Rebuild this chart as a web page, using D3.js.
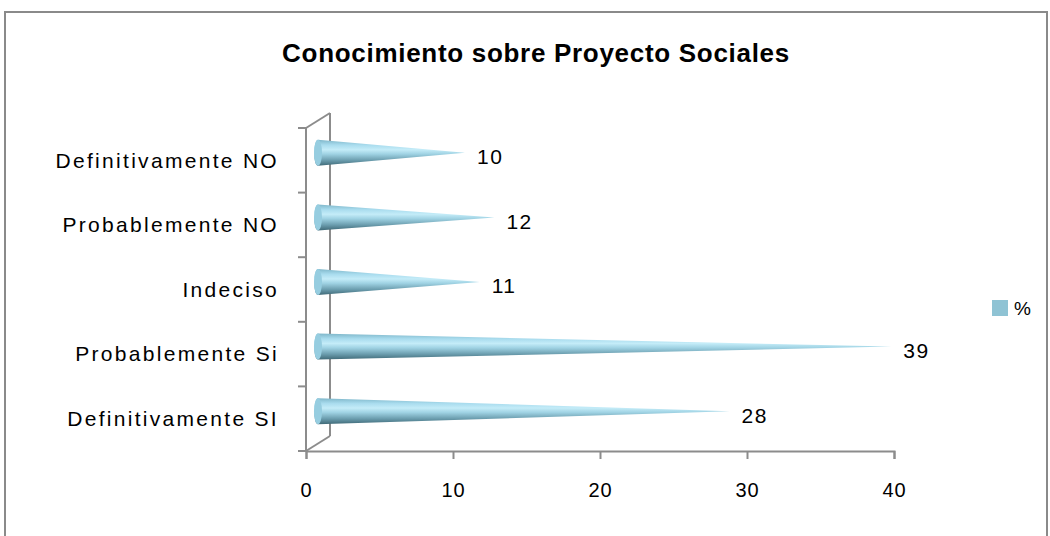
<!DOCTYPE html>
<html>
<head>
<meta charset="utf-8">
<script src="https://cdn.jsdelivr.net/npm/d3@7"></script>
<style>
  body { margin: 0; background: #fff; }
  svg { display: block; }
</style>
</head>
<body>
<div class="main"></div>
<script>
// data, bottom to top as in the picture
const categories = ["Definitivamente SI", "Probablemente Si", "Indeciso", "Probablemente NO", "Definitivamente NO"]
const values = [28, 39, 11, 12, 10]
const xTicks = [0, 10, 20, 30, 40]
const seriesName = "%"
const title = "Conocimiento sobre Proyecto Sociales"

const width = 1050
const height = 536
const margin = ({top: 128, right: 156, bottom: 85, left: 306})
const depth = ({dx: 24, dy: -15})
const font = "'Liberation Sans', Arial, sans-serif"

const svg = d3.select(".main").append("svg")
  .attr("width", width)
  .attr("height", height)

// outer frame (clipped at the bottom like the original)
svg.append("rect")
  .attr("x", 5).attr("y", 12)
  .attr("width", 1042).attr("height", 560)
  .attr("fill", "none")
  .attr("stroke", "#8a8a8a")
  .attr("stroke-width", 2)

svg.append("text")
  .text(title)
  .attr("x", 536).attr("y", 62)
  .attr("text-anchor", "middle")
  .attr("font-family", font)
  .attr("font-size", 26)
  .attr("font-weight", "bold")
  .attr("letter-spacing", 0.7)
  .attr("fill", "#000")

const xScale = d3.scaleLinear()
  .domain([0, 40])
  .range([margin.left, width - margin.right])

const yScale = d3.scaleBand()
  .domain(categories.slice().reverse())
  .range([margin.top, height - margin.bottom])

const x0 = xScale(0)
const yBottom = height - margin.bottom
const yTop = margin.top
const axisColor = "#8c8c8c"

// walls: front left axis, back wall edge and the depth lines
const walls = svg.append("g").attr("stroke", axisColor).attr("stroke-width", 2).attr("fill", "none")
walls.append("line").attr("x1", x0).attr("y1", yTop).attr("x2", x0).attr("y2", yBottom)
walls.append("line").attr("x1", x0 + depth.dx).attr("y1", yTop + depth.dy).attr("x2", x0 + depth.dx).attr("y2", yBottom + depth.dy)
walls.append("line").attr("x1", x0).attr("y1", yTop).attr("x2", x0 + depth.dx).attr("y2", yTop + depth.dy)
walls.append("line").attr("x1", x0).attr("y1", yBottom).attr("x2", x0 + depth.dx).attr("y2", yBottom + depth.dy)

// category ticks on the left axis
const yEdges = categories.map(c => yScale(c)).concat([yBottom])
walls.selectAll(".ytick")
  .data(yEdges)
  .join("line")
    .attr("x1", x0 - 8).attr("x2", x0)
    .attr("y1", d => d).attr("y2", d => d)

// value axis at the bottom
const xAxis = svg.append("g")
  .attr("transform", `translate(0, ${yBottom})`)
  .call(d3.axisBottom(xScale).tickValues(xTicks).tickSize(8).tickPadding(24))
xAxis.select(".domain").attr("stroke", axisColor).attr("stroke-width", 2)
xAxis.selectAll(".tick line").attr("stroke", axisColor).attr("stroke-width", 2)
xAxis.selectAll(".tick text")
  .attr("font-family", font)
  .attr("font-size", 20)
  .attr("letter-spacing", 1)
  .attr("fill", "#000")

// category labels
svg.append("g")
  .selectAll("text")
  .data(categories)
  .join("text")
    .text(d => d)
    .attr("x", 279)
    .attr("y", d => yScale(d) + yScale.bandwidth() / 2)
    .attr("dy", "0.35em")
    .attr("text-anchor", "end")
    .attr("font-family", font)
    .attr("font-size", 21)
    .attr("letter-spacing", 2.3)
    .attr("fill", "#000")

// cone shading
const defs = svg.append("defs")
const grad = defs.append("linearGradient")
  .attr("id", "coneFill")
  .attr("x1", 0).attr("y1", 0).attr("x2", 0).attr("y2", 1)
const stops = [
  [0, "#7fb7ca"], [0.2, "#a9dcee"], [0.38, "#c4ecf8"], [0.55, "#9fd2e3"],
  [0.78, "#6d9fb0"], [1, "#3f6977"]
]
grad.selectAll("stop")
  .data(stops)
  .join("stop")
    .attr("offset", d => d[0])
    .attr("stop-color", d => d[1])

const coneH = 26
const cones = svg.append("g")
  .selectAll("g")
  .data(categories.map((c, i) => ({cat: c, value: values[i]})))
  .join("g")
    .attr("transform", d => `translate(${depth.dx / 2}, ${yScale(d.cat) + yScale.bandwidth() / 2 + depth.dy / 2})`)

cones.append("path")
  .attr("d", d => {
    const xb = x0
    const xt = xScale(d.value)
    return `M${xb},${-coneH / 2} L${xt},0 L${xb},${coneH / 2} A4,${coneH / 2} 0 0 1 ${xb},${-coneH / 2} Z`
  })
  .attr("fill", "url(#coneFill)")

cones.append("ellipse")
  .attr("cx", x0)
  .attr("cy", 0)
  .attr("rx", 4)
  .attr("ry", coneH / 2)
  .attr("fill", "#96cde0")

// value labels
cones.append("text")
  .text(d => d.value)
  .attr("x", d => xScale(d.value) + 12)
  .attr("y", 4)
  .attr("dy", "0.35em")
  .attr("font-family", font)
  .attr("font-size", 21)
  .attr("letter-spacing", 1.5)
  .attr("fill", "#000")

// legend
const legend = svg.append("g").attr("transform", "translate(992, 300)")
legend.append("rect")
  .attr("width", 16).attr("height", 16)
  .attr("fill", "#8fc3d4")
legend.append("text")
  .text(seriesName)
  .attr("x", 22).attr("y", 8)
  .attr("dy", "0.35em")
  .attr("font-family", font)
  .attr("font-size", 19)
  .attr("fill", "#000")
</script>
</body>
</html>
